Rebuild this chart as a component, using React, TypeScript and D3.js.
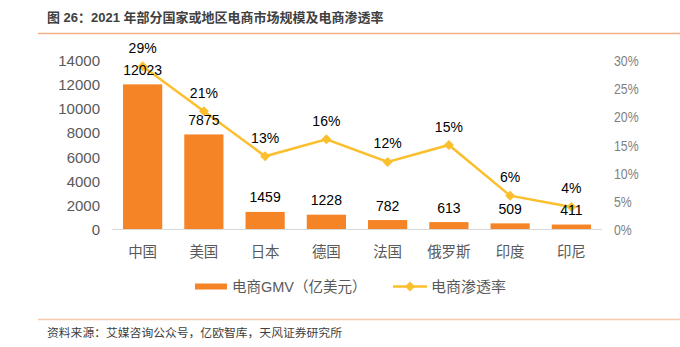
import React from "react";
import * as d3 from "d3";

const categories = ["中国", "美国", "日本", "德国", "法国", "俄罗斯", "印度", "印尼"];
const gmv = [12023, 7875, 1459, 1228, 782, 613, 509, 411];
const penetration = [0.29, 0.21, 0.13, 0.16, 0.12, 0.15, 0.06, 0.04];
const leftTicks = [0, 2000, 4000, 6000, 8000, 10000, 12000, 14000];
const rightTicks = [0, 0.05, 0.1, 0.15, 0.2, 0.25, 0.3];

const W = 680, H = 347;
const plotTop = 60.5, plotBottom = 229.5, plotLeft = 112, plotRight = 602;

export default function App() {
  const x = d3.scaleBand<string>().domain(categories).range([plotLeft, plotRight]).paddingInner(0.36).paddingOuter(0.18);
  const yL = d3.scaleLinear().domain([0, 14000]).range([plotBottom, plotTop]);
  const yR = d3.scaleLinear().domain([0, 0.3]).range([plotBottom, plotTop]);
  const cx = (c: string) => (x(c) as number) + x.bandwidth() / 2;
  const line = d3.line<number>().x((_, i) => cx(categories[i])).y((d) => yR(d));
  const num = "'Liberation Sans', Arial, sans-serif";
  const cjk = "'Liberation Sans', 'Noto Sans CJK SC', sans-serif";
  const lineColor = "#FBBF2D";
  const barColor = "#F58426";
  const diamond = (px: number, py: number, r = 5) => `M${px},${py - r}L${px + r},${py}L${px},${py + r}L${px - r},${py}Z`;

  return (
    <svg width={W} height={H} style={{ position: "absolute", left: 0, top: 0, background: "#fff" }}>
      <text x={47} y={22} fontFamily={cjk} fontSize={13} fontWeight="bold" fill="#404040">图 26：2021 年部分国家或地区电商市场规模及电商渗透率</text>
      <line x1={38} x2={680} y1={33.5} y2={33.5} stroke="#F4B183" strokeWidth={1.5} />

      {leftTicks.map((t) => (
        <text key={t} x={100} y={yL(t) + 5.5} textAnchor="end" fontFamily={num} fontSize={15} fill="#595959">{t}</text>
      ))}
      {rightTicks.map((t) => (
        <text key={t} transform={`translate(614,${yR(t) + 5.5}) scale(0.82,1)`} fontFamily={num} fontSize={15} fill="#7F7F7F">{Math.round(t * 100)}%</text>
      ))}

      {categories.map((c, i) => (
        <rect key={c} x={x(c)} y={yL(gmv[i])} width={x.bandwidth()} height={plotBottom - yL(gmv[i])} fill={barColor} />
      ))}
      <line x1={plotLeft} x2={plotRight} y1={plotBottom} y2={plotBottom} stroke="#D9D9D9" strokeWidth={1.2} />

      {categories.map((c) => (
        <text key={c} x={cx(c)} y={257} textAnchor="middle" fontFamily={cjk} fontSize={14.5} fill="#595959">{c}</text>
      ))}

      <path d={line(penetration) || ""} fill="none" stroke={lineColor} strokeWidth={2.5} />
      {categories.map((c, i) => (
        <path key={c} d={diamond(cx(c), yR(penetration[i]))} fill={lineColor} />
      ))}

      {categories.map((c, i) => (
        <text key={c} x={cx(c)} y={yL(gmv[i]) - 9.5} textAnchor="middle" fontFamily={num} fontSize={14} fill="#000">{gmv[i]}</text>
      ))}
      {categories.map((c, i) => (
        <text key={c} x={cx(c)} y={yR(penetration[i]) - 13.5} textAnchor="middle" fontFamily={num} fontSize={14} fill="#000">{Math.round(penetration[i] * 100)}%</text>
      ))}

      <rect x={195} y={283.5} width={32} height={6} fill={barColor} />
      <text x={232} y={292} fontFamily={cjk} fontSize={14.5} fill="#595959">电商GMV（亿美元）</text>
      <line x1={393} x2={427} y1={286.5} y2={286.5} stroke={lineColor} strokeWidth={2.5} />
      <path d={diamond(410, 286.5)} fill={lineColor} />
      <text x={431} y={292} fontFamily={cjk} fontSize={15} fill="#595959">电商渗透率</text>

      <line x1={38} x2={680} y1={319.5} y2={319.5} stroke="#F8CBAD" strokeWidth={1.5} />
      <text x={47} y={337} fontFamily={cjk} fontSize={11.8} fill="#404040">资料来源：艾媒咨询公众号，亿欧智库，天风证券研究所</text>
    </svg>
  );
}
